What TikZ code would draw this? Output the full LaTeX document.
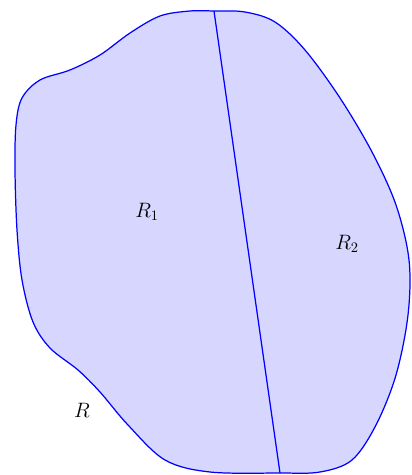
\documentclass[tikz,border=0pt]{standalone}
\usepackage{tikz}
\tikzset{
  regionfill/.style={draw=blue, fill=blue!16, line width=0.85pt},
  cutline/.style={draw=blue, line width=0.85pt},
  regionlabel/.style={inner sep=1pt, font=\Large}
}
\begin{document}
\begin{tikzpicture}[x=0.0243cm, y=-0.0243cm]
  \useasboundingbox (0,0) rectangle (411,475);
  % outline of R
  \draw[regionfill] plot[smooth cycle, tension=0.55] coordinates {
    (214,11) (245,12) (275,22) (305,50) (340,98) (372,152) (396,205)
    (409,260) (408,315) (396,375) (376,425) (352,460) (320,472) (280,473)
    (210,472) (165,460) (128,425) (100,392) (78,370) (50,348) (33,322)
    (22,280) (17,230) (15,170) (16,125) (22,98) (40,80) (70,70)
    (100,55) (130,33) (160,16) (190,11)};
  \coordinate (top) at (214,11);
  \coordinate (bot) at (280,473);
  \draw[cutline] (top) -- (bot);
  \node[regionlabel] (r1) at (147,212) {$R_1$};
  \node[regionlabel] (r2) at (347,244) {$R_2$};
  \node[regionlabel] (r) at (82,410) {$R$};
\end{tikzpicture}
\end{document}
